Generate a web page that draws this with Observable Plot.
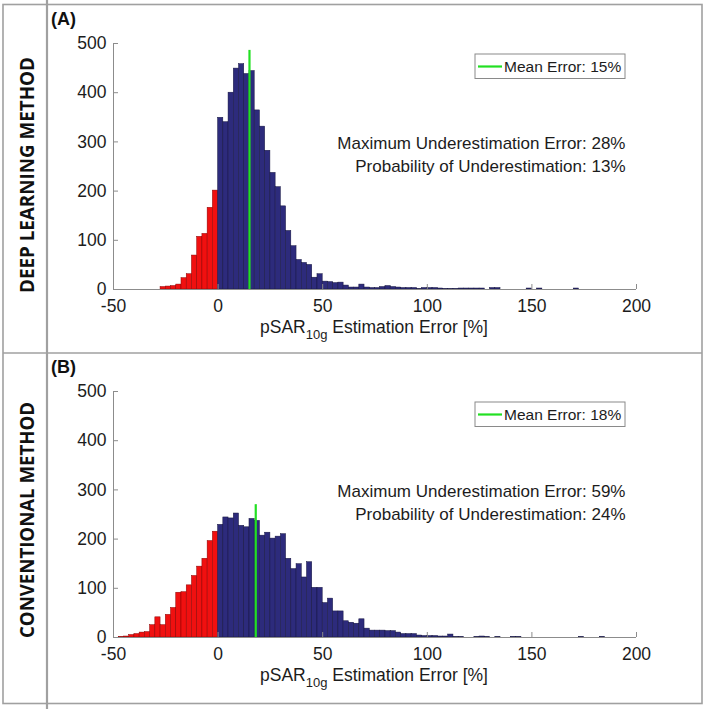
<!DOCTYPE html>
<html>
<head>
<meta charset="utf-8">
<script src="https://cdn.jsdelivr.net/npm/d3@7"></script>
<script src="https://cdn.jsdelivr.net/npm/@observablehq/plot@0.6"></script>
<style>
  body { margin: 0; background: #fff; }
  #fig { position: relative; width: 709px; height: 709px; overflow: hidden; background: #fff; }
  #fig > svg { position: absolute; }
</style>
</head>
<body>
<div id="fig"></div>
<script>
// ---------- data ----------
const xTicks = [-50, 0, 50, 100, 150, 200];
const yTicks = [0, 100, 200, 300, 400, 500];
const xDomain = [-50, 200];
const yDomain = [0, 500];
const binWidth = 2.5;

const panelLabels = ["(A)", "(B)"];
const methodLabels = ["DEEP LEARNING METHOD", "CONVENTIONAL METHOD"];
const xLabelMain = "pSAR";
const xLabelSub = "10g";
const xLabelRest = " Estimation Error [%]";

// Panel A: deep learning method
const binStartA = [-27.5, -25, -22.5, -20, -17.5, -15, -12.5, -10, -7.5, -5, -2.5,
  0, 2.5, 5, 7.5, 10, 12.5, 15, 17.5, 20, 22.5, 25, 27.5, 30, 32.5, 35, 37.5, 40, 42.5, 45, 47.5,
  50, 52.5, 55, 57.5, 60, 62.5, 65, 67.5, 70, 72.5, 75, 77.5, 80, 82.5, 85, 87.5, 90, 92.5, 95, 97.5,
  100, 102.5, 105, 107.5, 110, 112.5, 115, 117.5, 120, 122.5, 125, 130, 132.5, 147.5, 152.5, 170];
const countA = [5, 6, 7, 10, 23, 31, 69, 107, 113, 166, 201,
  349, 340, 400, 449, 458, 438, 444, 364, 331, 282, 237, 208, 169, 119, 88, 60, 54, 50, 24, 31,
  16, 15, 13, 14, 8, 4, 4, 10, 4, 3, 3, 5, 7, 5, 4, 3, 3, 3, 1, 3,
  3, 3, 2, 1, 1, 1, 2, 2, 2, 2, 2, 3, 3, 2, 2, 2];
const meanA = 15;
const meanTopA = 486;
const legendA = "Mean Error: 15%";
const notesA = ["Maximum Underestimation Error: 28%", "Probability of Underestimation: 13%"];

// Panel B: conventional method
const binStartB = [-47.5, -45, -42.5, -40, -37.5, -35, -32.5, -30, -27.5, -25, -22.5, -20, -17.5, -15, -12.5, -10, -7.5, -5, -2.5,
  0, 2.5, 5, 7.5, 10, 12.5, 15, 17.5, 20, 22.5, 25, 27.5, 30, 32.5, 35, 37.5, 40, 42.5, 45, 47.5,
  50, 52.5, 55, 57.5, 60, 62.5, 65, 67.5, 70, 72.5, 75, 77.5, 80, 82.5, 85, 87.5, 90, 92.5, 95, 97.5,
  100, 102.5, 105, 107.5, 110, 112.5, 115, 122.5, 125, 127.5, 132.5, 140, 142.5, 172.5, 182.5];
const countB = [1, 2, 5, 7, 10, 11, 25, 41, 25, 46, 60, 91, 92, 106, 125, 144, 160, 196, 215,
  229, 244, 242, 252, 227, 224, 241, 237, 207, 213, 201, 205, 210, 160, 139, 149, 122, 153, 101, 101,
  70, 79, 53, 53, 33, 30, 28, 37, 18, 14, 14, 14, 13, 13, 10, 7, 7, 7, 4, 3,
  3, 3, 2, 2, 6, 1, 1, 1, 2, 1, 1, 1, 1, 1, 1];
const meanB = 18;
const meanTopB = 270;
const legendB = "Mean Error: 18%";
const notesB = ["Maximum Underestimation Error: 59%", "Probability of Underestimation: 24%"];

// ---------- styles ----------
const RED = "#f01010", RED_EDGE = "#8a0000";
const BLUE = "#2d2b7c", BLUE_EDGE = "#15143f";
const GREEN = "#22e022";
const AXIS = "#8c8c8c";
const TEXT = "#1c1c1c";
const FONT = "'Liberation Sans', Arial, sans-serif";

function panel(starts, counts, mean, meanTop, notes, height, marginBottom) {
  const bins = starts.map((s, i) => ({x1: s, x2: s + binWidth, y: counts[i]}));
  return Plot.plot({
    width: 655, height,
    marginLeft: 66, marginRight: 66, marginTop: 38, marginBottom,
    x: {domain: xDomain},
    y: {domain: yDomain},
    style: {fontFamily: FONT, fontSize: "17.5px", color: TEXT, background: "transparent", overflow: "visible"},
    marks: [
      Plot.rectY(bins.filter(d => d.x1 < 0), {x1: "x1", x2: "x2", y: "y", fill: RED, stroke: RED_EDGE, strokeWidth: 0.5}),
      Plot.rectY(bins.filter(d => d.x1 >= 0), {x1: "x1", x2: "x2", y: "y", fill: BLUE, stroke: BLUE_EDGE, strokeWidth: 0.5}),
      Plot.ruleX([mean], {y1: yDomain[0], y2: meanTop, stroke: GREEN, strokeWidth: 2.2}),
      Plot.ruleX([xDomain[0]], {stroke: AXIS, strokeWidth: 1}),
      Plot.ruleY([yDomain[0]], {stroke: AXIS, strokeWidth: 1}),
      Plot.axisX({ticks: xTicks, tickSize: 0, tickPadding: 10, label: null, tickFormat: d => String(d).replace("−", "-"), fill: TEXT}),
      Plot.axisX({ticks: xTicks, tickSize: -5, text: null, label: null, stroke: AXIS}),
      Plot.axisY({ticks: yTicks, tickSize: 0, tickPadding: 7, label: null, fill: TEXT}),
      Plot.axisY({ticks: yTicks, tickSize: -5, text: null, label: null, stroke: AXIS}),
      Plot.text([notes.join("\n")], {frameAnchor: "top-right", textAnchor: "end", lineAnchor: "top",
        lineHeight: 1.41, dx: -11, dy: 88, fontSize: 17, fill: TEXT})
    ]
  });
}

const fig = document.getElementById("fig");
const pA = panel(binStartA, countA, meanA, meanTopA, notesA, 348, 64);
pA.style.left = "47px"; pA.style.top = "5px";
const pB = panel(binStartB, countB, meanB, meanTopB, notesB, 350, 66);
pB.style.left = "47px"; pB.style.top = "353px";
fig.appendChild(pA); fig.appendChild(pB);

// ---------- overlay: frame, labels, legends ----------
const ov = d3.select(fig).append("svg").attr("width", 709).attr("height", 709)
  .style("left", "0px").style("top", "0px").style("pointer-events", "none")
  .style("font-family", FONT);

const BORDER = "#a0a0a0";
ov.append("rect").attr("x", 3).attr("y", 4.5).attr("width", 699).attr("height", 699)
  .attr("fill", "none").attr("stroke", BORDER).attr("stroke-width", 1.6);
ov.append("line").attr("x1", 47).attr("x2", 47).attr("y1", 0).attr("y2", 709)
  .attr("stroke", BORDER).attr("stroke-width", 2.2);
ov.append("line").attr("x1", 3).attr("x2", 702).attr("y1", 353).attr("y2", 353)
  .attr("stroke", BORDER).attr("stroke-width", 1.6);

const offsets = [0, 348];
const legends = [legendA, legendB];
const labelCenters = [175, 520];

offsets.forEach((off, i) => {
  // panel label
  ov.append("text").attr("x", 51).attr("y", 25 + off).attr("font-size", 18).attr("font-weight", "bold")
    .attr("fill", "#111").text(panelLabels[i]);
  // method label (rotated)
  ov.append("text").attr("transform", `translate(34,${labelCenters[i]}) rotate(-90)`)
    .attr("text-anchor", "middle").attr("font-family", "'Open Sans', sans-serif").attr("font-weight", 700)
    .attr("font-size", 19.5).attr("textLength", 236).attr("lengthAdjust", "spacingAndGlyphs")
    .attr("fill", "#111").text(methodLabels[i]);
  // x axis label with subscript
  const t = ov.append("text").attr("x", 374).attr("y", 333 + off).attr("text-anchor", "middle")
    .attr("font-size", 17.5).attr("fill", TEXT);
  t.append("tspan").text(xLabelMain);
  t.append("tspan").attr("font-size", 13).attr("dy", 6).text(xLabelSub);
  t.append("tspan").attr("dy", -6).text(xLabelRest);
  // legend box
  const ly = 54 + off;
  ov.append("rect").attr("x", 475).attr("y", ly).attr("width", 150).attr("height", 24.5)
    .attr("fill", "#fff").attr("stroke", "#8a8a8a").attr("stroke-width", 1);
  ov.append("line").attr("x1", 478).attr("x2", 502).attr("y1", ly + 12.5).attr("y2", ly + 12.5)
    .attr("stroke", GREEN).attr("stroke-width", 2.2);
  ov.append("text").attr("x", 504).attr("y", ly + 18).attr("font-size", 15.5).attr("fill", TEXT)
    .text(legends[i]);
});
</script>
</body>
</html>
